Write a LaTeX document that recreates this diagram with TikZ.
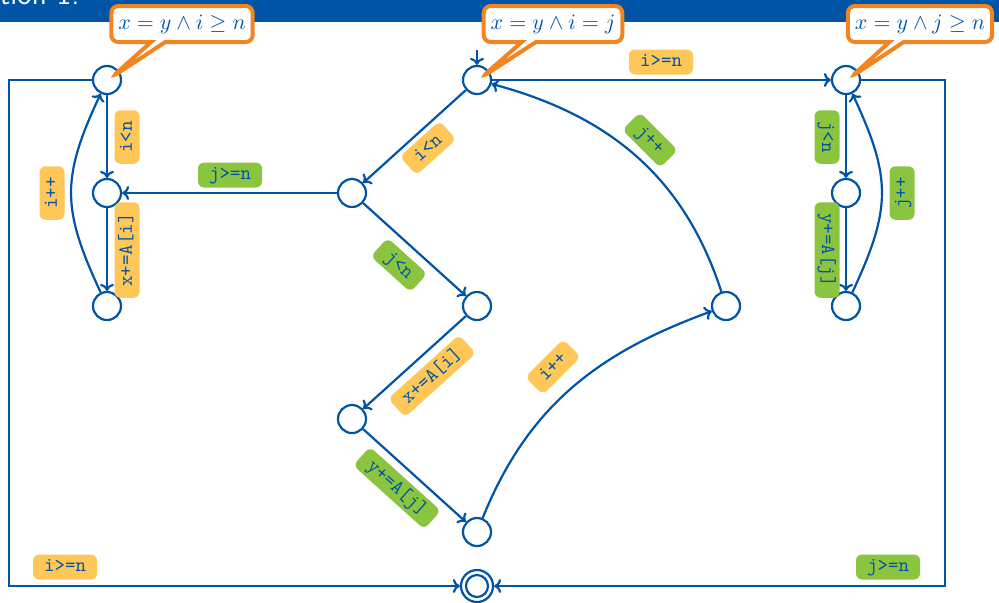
\documentclass[tikz,border=0pt]{standalone}
\usetikzlibrary{arrows.meta,shapes.callouts,calc}
\definecolor{lineblue}{RGB}{0,84,166}
\definecolor{guardorange}{RGB}{255,198,88}
\definecolor{guardgreen}{RGB}{139,197,63}
\definecolor{noteorange}{RGB}{242,133,32}
\begin{document}
\begin{tikzpicture}[x=0.5pt,y=-0.5pt,
  state/.style={circle,draw=lineblue,line width=1.1pt,minimum size=14pt,inner sep=0pt,fill=white},
  flow/.style={draw=lineblue,line width=1.1pt,-{To[length=3.5pt,width=7pt]}},
  guard/.style={rounded corners=3pt,text=lineblue,font=\ttfamily,inner xsep=5.5pt,inner ysep=1.5pt,text height=7.2pt,text depth=2.3pt},
  ig/.style={guard,fill=guardorange},
  jg/.style={guard,fill=guardgreen},
  note/.style={rectangle callout,draw=noteorange,line width=2pt,fill=white,rounded corners=3.5pt,
    text=lineblue,minimum height=18pt,inner xsep=3.5pt,font=\fontsize{11}{13}\selectfont}
]
\useasboundingbox (0,0) rectangle (999,602);
\begin{scope}
  \clip (0,0) rectangle (999,602);
  % title bar
  \fill[lineblue] (0,0) rectangle (999,22);
  \node[anchor=base east,text=white,font=\sffamily\fontsize{15}{18}\selectfont,inner sep=0pt] (title) at (80,4) {Solution 1.};
\end{scope}

% states
\node[state] (L1) at (107,80) {};
\node[state] (L2) at (107,193) {};
\node[state] (L3) at (107,306) {};
\node[state] (C0) at (477,80) {};
\node[state] (C1) at (352,193) {};
\node[state] (C2) at (477,306) {};
\node[state] (C3) at (352,419) {};
\node[state] (C4) at (477,532) {};
\node[state] (C5) at (726,306) {};
\node[state] (R1) at (846,80) {};
\node[state] (R2) at (846,193) {};
\node[state] (R3) at (846,306) {};
\node[state,minimum size=16pt] (F) at (477,586) {};
\draw[lineblue,line width=1.1pt] (F.center) circle (5.5pt);

\coordinate (init) at (477,50);
\coordinate (cl) at (9,586);
\coordinate (cr) at (945,586);

% transitions
\draw[flow] (init) -- (C0);
\draw[flow] (C0) -- (R1);
\draw[flow] (C0) -- (C1);
\draw[flow] (C1) -- (L2);
\draw[flow] (C1) -- (C2);
\draw[flow] (C2) -- (C3);
\draw[flow] (C3) -- (C4);
\draw[flow] (C4) to[out=68,in=-160] (C5);
\draw[flow] (C5) to[out=108,in=-15] (C0);
\draw[flow] (L1) -- (L2);
\draw[flow] (L2) -- (L3);
\draw[flow] (L3) to[out=115,in=-115,looseness=1.2] (L1);
\draw[flow] (R1) -- (R2);
\draw[flow] (R2) -- (R3);
\draw[flow] (R3) to[out=65,in=-65,looseness=1.2] (R1);
\draw[flow] (L1) -| (cl) -- (F);
\draw[flow] (R1) -| (cr) -- (F);

% guards and updates
\node[ig] (g1) at (661,62) {i>=n};
\node[ig,rotate=90] (g2) at (127,137) {i<n};
\node[ig,rotate=90] (g3) at (127,250) {x+=A[i]};
\node[ig,rotate=90] (g4) at (52,193) {i++};
\node[jg] (g5) at (230,175) {j>=n};
\node[jg,rotate=-90] (g6) at (827,137) {j<n};
\node[jg,rotate=-90] (g7) at (827,250) {y+=A[j]};
\node[jg,rotate=90] (g8) at (902,193) {j++};
\node[ig,rotate=42] (g9) at (428,148) {i<n};
\node[jg,rotate=-42] (g10) at (399,265) {j<n};
\node[ig,rotate=42] (g11) at (432,376) {x+=A[i]};
\node[jg,rotate=-42] (g12) at (397,488) {y+=A[j]};
\node[ig,rotate=45] (g13) at (553,367) {i++};
\node[jg,rotate=-45] (g14) at (650,140) {j++};
\node[ig] (g15) at (65,567) {i>=n};
\node[jg] (g16) at (888,567) {j>=n};

% invariants
\node[note,callout absolute pointer={($(L1.center)+(5,-3)$)}] (n1) at (182,24) {$x=y\land i\geq n$};
\node[note,callout absolute pointer={($(C0.center)+(5,-3)$)}] (n2) at (553,24) {$x=y\land i=j$};
\node[note,callout absolute pointer={($(R1.center)+(5,-3)$)}] (n3) at (920,24) {$x=y\land j\geq n$};
\end{tikzpicture}
\end{document}
